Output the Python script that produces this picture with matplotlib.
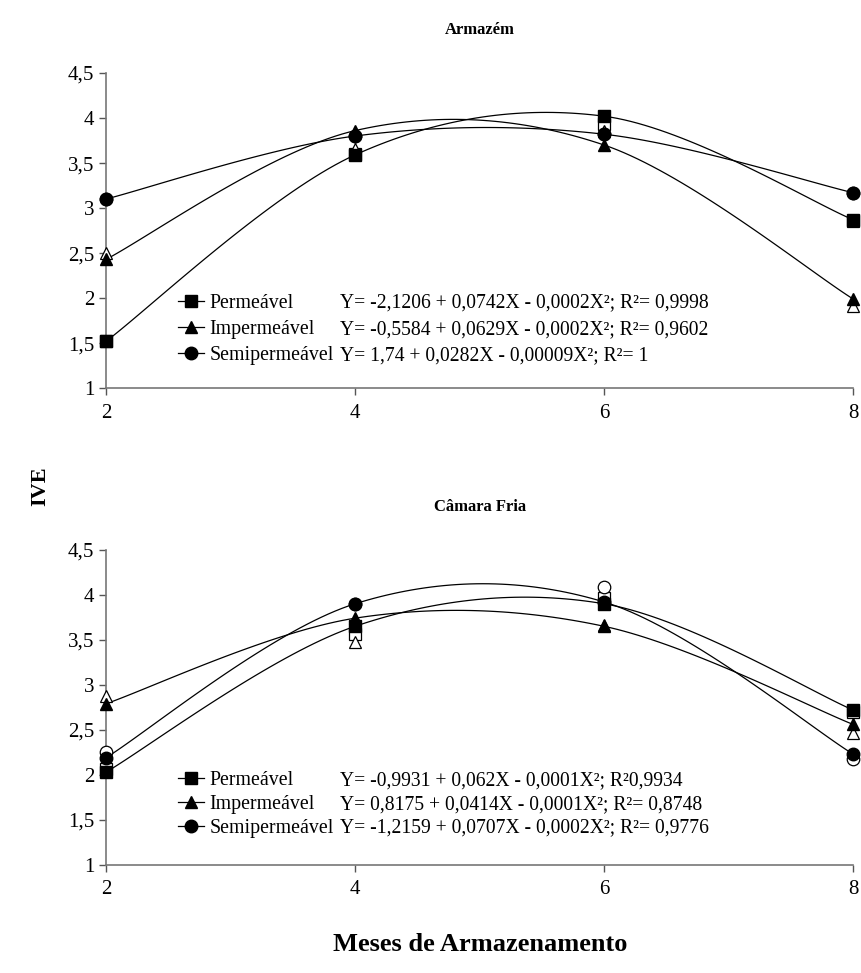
import matplotlib.pyplot as plt
import numpy as np
from matplotlib.lines import Line2D

plt.rcParams['font.family'] = ['Liberation Serif', 'DejaVu Serif']

meses = [2, 4, 6, 8]
series = ['Permeável', 'Impermeável', 'Semipermeável']
markers = ['s', '^', 'o']

# Armazém: fitted (filled) and observed (hollow)
arm_fit = [[1.52, 3.59, 4.02, 2.87],
           [2.43, 3.86, 3.70, 1.99],
           [3.10, 3.80, 3.82, 3.17]]
arm_obs = [[1.52, 3.60, 3.93, 2.86],
           [2.50, 3.66, 3.86, 1.91],
           [3.10, 3.80, 3.82, 3.17]]
arm_eq = ['Y= -2,1206 + 0,0742X - 0,0002X²; R²= 0,9998',
          'Y= -0,5584 + 0,0629X - 0,0002X²; R²= 0,9602',
          'Y= 1,74 + 0,0282X - 0,00009X²; R²= 1']

# Câmara Fria
cf_fit = [[2.03, 3.65, 3.90, 2.72],
          [2.79, 3.74, 3.65, 2.56],
          [2.19, 3.90, 3.92, 2.23]]
cf_obs = [[2.07, 3.57, 3.96, 2.70],
          [2.88, 3.48, 3.66, 2.46],
          [2.25, 3.90, 4.09, 2.18]]
cf_eq = ['Y= -0,9931 + 0,062X - 0,0001X²; R²0,9934',
         'Y= 0,8175 + 0,0414X - 0,0001X²; R²= 0,8748',
         'Y= -1,2159 + 0,0707X - 0,0002X²; R²= 0,9776']


def smooth(x, y, n=40):
    # Excel-like smoothed line: cubic Bezier with Catmull-Rom tangents
    x = np.asarray(x, float)
    y = np.asarray(y, float)
    px = np.concatenate([[x[0]], x, [x[-1]]])
    py = np.concatenate([[y[0]], y, [y[-1]]])
    t = np.linspace(0, 1, n)
    xs, ys = [], []
    for i in range(1, len(x)):
        p0 = np.array([px[i], py[i]])
        p3 = np.array([px[i + 1], py[i + 1]])
        c1 = p0 + (np.array([px[i + 1], py[i + 1]]) - np.array([px[i - 1], py[i - 1]])) / 6
        c2 = p3 - (np.array([px[i + 2], py[i + 2]]) - np.array([px[i], py[i]])) / 6
        b = ((1 - t) ** 3)[:, None] * p0 + (3 * (1 - t) ** 2 * t)[:, None] * c1 \
            + (3 * (1 - t) * t ** 2)[:, None] * c2 + (t ** 3)[:, None] * p3
        xs.extend(b[:, 0])
        ys.extend(b[:, 1])
    return xs, ys


def draw_panel(ax, fit, obs, eqs, title, legend_y, spacing):
    for k in range(3):
        sx, sy = smooth(meses, fit[k])
        ax.plot(sx, sy, color='black', lw=0.9, zorder=2, clip_on=False)
        ax.plot(meses, obs[k], linestyle='none', marker=markers[k], ms=9,
                mfc='white', mec='black', mew=0.9, zorder=3, clip_on=False)
        ax.plot(meses, fit[k], linestyle='none', marker=markers[k], ms=9,
                mfc='black', mec='black', zorder=4, clip_on=False)

    ax.set_xlim(2, 8)
    ax.set_ylim(1, 4.5)
    ax.set_xticks(meses)
    yt = np.arange(1, 4.51, 0.5)
    ax.set_yticks(yt)
    ax.set_yticklabels([('%g' % v).replace('.', ',') for v in yt])
    ax.tick_params(direction='out', length=5, width=1, colors='#555555',
                   labelcolor='black', labelsize=15)
    ax.tick_params(axis='x', pad=6)
    for s in ['top', 'right']:
        ax.spines[s].set_visible(False)
    for s in ['left', 'bottom']:
        ax.spines[s].set_color('#777777')
        ax.spines[s].set_linewidth(1.2)
    ax.set_title(title, fontweight='bold', fontsize=12, pad=28)

    handles = [Line2D([], [], color='black', lw=0.9, marker=m, ms=9,
                      mfc='black', mec='black') for m in markers]
    leg1 = ax.legend(handles, series, loc='upper left',
                     bbox_to_anchor=(0.096, legend_y), frameon=False,
                     fontsize=14.3, handlelength=1.35, handletextpad=0.25,
                     labelspacing=spacing, borderpad=0, borderaxespad=0)
    ax.add_artist(leg1)
    blank = [Line2D([], [], lw=0) for _ in eqs]
    ax.legend(blank, eqs, loc='upper left', bbox_to_anchor=(0.313, legend_y),
              frameon=False, fontsize=14.1, handlelength=0, handletextpad=0,
              labelspacing=spacing, borderpad=0, borderaxespad=0)


fig = plt.figure(figsize=(8.61, 9.73), dpi=100)
ax1 = fig.add_axes([0.123, 0.601, 0.868, 0.324])
ax2 = fig.add_axes([0.123, 0.111, 0.868, 0.324])

draw_panel(ax1, arm_fit, arm_obs, arm_eq, 'Armazém', 0.30, 0.37)
draw_panel(ax2, cf_fit, cf_obs, cf_eq, 'Câmara Fria', 0.297, 0.23)

fig.text(0.047, 0.5, 'IVE', rotation=90, fontweight='bold', fontsize=16,
         ha='center', va='center')
fig.text(0.558, 0.029, 'Meses de Armazenamento', fontweight='bold',
         fontsize=19, ha='center', va='center')

fig.savefig('out.png', dpi=100)
